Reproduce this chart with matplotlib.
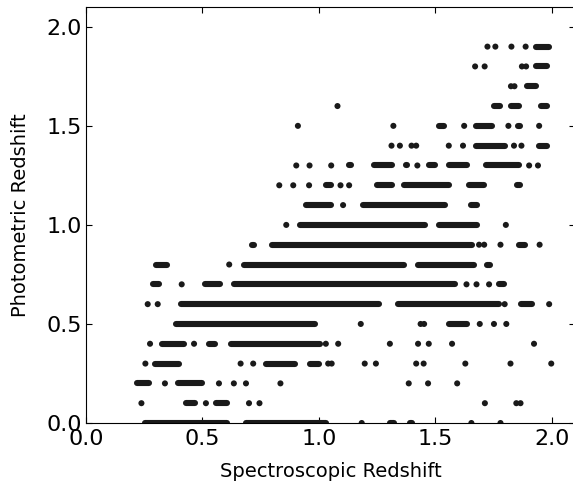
import numpy as np
import matplotlib.pyplot as plt

# single dots: photometric level and spectroscopic value
dot_z = [1.9, 1.9, 1.9, 1.9,
         1.8, 1.8, 1.8, 1.8,
         1.7, 1.7,
         1.6,
         1.5, 1.5, 1.5, 1.5, 1.5,
         1.4, 1.4, 1.4, 1.4, 1.4, 1.4, 1.4, 1.4,
         1.3, 1.3, 1.3, 1.3, 1.3, 1.3,
         1.2, 1.2, 1.2, 1.2, 1.2,
         1.1,
         1.0, 1.0,
         0.9, 0.9, 0.9, 0.9,
         0.8,
         0.7, 0.7, 0.7, 0.7,
         0.6, 0.6, 0.6, 0.6,
         0.5, 0.5, 0.5, 0.5, 0.5, 0.5,
         0.4, 0.4, 0.4, 0.4, 0.4, 0.4, 0.4, 0.4, 0.4,
         0.3, 0.3, 0.3, 0.3, 0.3, 0.3, 0.3, 0.3, 0.3, 0.3, 0.3, 0.3,
         0.2, 0.2, 0.2, 0.2, 0.2, 0.2, 0.2, 0.2,
         0.1, 0.1, 0.1, 0.1, 0.1, 0.1, 0.1,
         0.0, 0.0, 0.0]
dot_x = [1.724, 1.758, 1.827, 1.888,
         1.671, 1.712, 1.872, 1.890,
         1.825, 1.840,
         1.080,
         0.910, 1.320, 1.624, 1.814, 1.946,
         1.312, 1.348, 1.398, 1.418, 1.558, 1.619, 1.838, 1.870,
         0.903, 0.960, 1.053, 1.423, 1.903, 1.941,
         0.830, 0.890, 0.958, 1.093, 1.130,
         1.104,
         0.860, 1.803,
         1.688, 1.710, 1.780, 1.948,
         0.615,
         0.411, 1.634, 1.677, 1.731,
         0.265, 0.308, 1.798, 1.989,
         1.180, 1.437, 1.452, 1.691, 1.752, 1.805,
         0.275, 0.464, 1.030, 1.083, 1.305, 1.426, 1.472, 1.572, 1.924,
         0.255, 0.664, 0.718, 1.040, 1.055, 1.197, 1.245, 1.418, 1.450, 1.629, 1.823, 1.998,
         0.339, 0.571, 0.635, 0.687, 0.835, 1.386, 1.469, 1.594,
         0.238, 0.515, 0.700, 0.745, 1.713, 1.848, 1.866,
         1.184, 1.655, 1.780]

# runs of overlapping dots: level, first and last centre
run_z = [1.9, 1.8, 1.7, 1.6, 1.6, 1.6,
         1.5, 1.5, 1.5,
         1.4, 1.4,
         1.3, 1.3, 1.3, 1.3, 1.3, 1.3,
         1.2, 1.2, 1.2, 1.2, 1.2,
         1.1, 1.1, 1.1,
         1.0, 1.0,
         0.9, 0.9, 0.9,
         0.8, 0.8, 0.8, 0.8,
         0.7, 0.7, 0.7, 0.7,
         0.6, 0.6, 0.6,
         0.5, 0.5,
         0.4, 0.4, 0.4,
         0.3, 0.3, 0.3,
         0.2, 0.2,
         0.1, 0.1,
         0.0, 0.0, 0.0, 0.0]
run_start = [1.933, 1.932, 1.896, 1.753, 1.825, 1.953,
             1.517, 1.674, 1.856,
             1.674, 1.946,
             1.128, 1.238, 1.374, 1.474, 1.560, 1.717,
             1.031, 1.248, 1.367, 1.646, 1.853,
             0.945, 1.191, 1.653,
             0.920, 1.517,
             0.712, 0.799, 1.860,
             0.301, 0.680, 1.424, 1.724,
             0.287, 0.511, 0.637, 1.774,
             0.408, 1.338, 1.868,
             0.387, 1.560,
             0.327, 0.527, 0.623,
             0.298, 0.773, 0.962,
             0.218, 0.394,
             0.430, 0.558,
             0.255, 0.686, 1.305, 1.392]
run_end = [1.990, 1.980, 1.934, 1.779, 1.858, 1.979,
           1.536, 1.743, 1.865,
           1.801, 1.979,
           1.138, 1.314, 1.379, 1.500, 1.636, 1.858,
           1.050, 1.314, 1.557, 1.708, 1.865,
           1.050, 1.543, 1.679,
           1.457, 1.679,
           0.722, 1.657, 1.886,
           0.349, 1.364, 1.665, 1.736,
           0.313, 0.577, 1.586, 1.793,
           1.257, 1.772, 1.915,
           0.985, 1.636,
           0.420, 0.556, 1.007,
           0.399, 0.899, 0.999,
           0.270, 0.499,
           0.470, 0.606,
           0.607, 1.031, 1.321, 1.400]

dot_color = '#1a1a1a'

fig = plt.figure(figsize=(5.73, 4.86), dpi=100)
ax = fig.add_axes([86 / 573, 63 / 486, (575 - 86) / 573, (423 - 7) / 486])

ax.hlines(run_z, run_start, run_end, colors=dot_color, linewidth=4.4,
          capstyle='round')
ax.scatter(dot_x, dot_z, s=19, color=dot_color, edgecolors='none')

ax.set_xlim(0, 2.1)
ax.set_ylim(0, 2.1)
ax.set_xticks(np.arange(0, 2.01, 0.5))
ax.set_yticks(np.arange(0, 2.01, 0.5))
ax.tick_params(direction='in', top=True, right=True, length=4, width=0.8,
               labelsize=16)
ax.tick_params(axis='x', pad=4.5)
ax.tick_params(axis='y', pad=3)
for s in ax.spines.values():
    s.set_linewidth(0.8)

ax.set_xlabel('Spectroscopic Redshift', fontsize=14, labelpad=9)
ax.set_ylabel('Photometric Redshift', fontsize=14, labelpad=12)

fig.savefig('out.png', dpi=100)
